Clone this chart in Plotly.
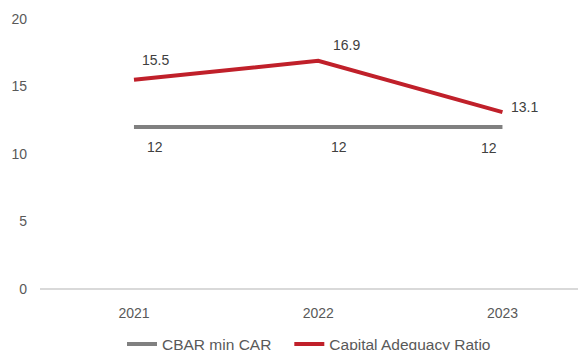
import plotly.graph_objects as go

years = ["2021", "2022", "2023"]
cbar_min_car = [12, 12, 12]
capital_adequacy_ratio = [15.5, 16.9, 13.1]
y_ticks = [0, 5, 10, 15, 20]

GREY = "#808080"
RED = "#c0202a"
TEXT = "#595959"
FONT = "Liberation Sans, Arial, sans-serif"
NBSP = "\u00a0"

fig = go.Figure()
fig.add_trace(go.Scatter(
    x=years, y=cbar_min_car, name="CBAR min CAR" + NBSP * 3, mode="lines",
    line=dict(color=GREY, width=4), hoverinfo="skip",
))
fig.add_trace(go.Scatter(
    x=years, y=capital_adequacy_ratio, name="Capital Adequacy Ratio", mode="lines",
    line=dict(color=RED, width=4), hoverinfo="skip",
))

# value labels, offset from each point (x given as category index)
red_shifts = [(22, 20), (28, 16), (22, 5)]
grey_shifts = [(21, -20), (21, -20), (-13, -21)]
for i, (v, (dx, dy)) in enumerate(zip(capital_adequacy_ratio, red_shifts)):
    fig.add_annotation(x=i, y=v, xref="x", yref="y", text=f"{v}", showarrow=False,
                       xshift=dx, yshift=dy,
                       font=dict(family=FONT, size=14, color="#404040"))
for i, (v, (dx, dy)) in enumerate(zip(cbar_min_car, grey_shifts)):
    fig.add_annotation(x=i, y=v, xref="x", yref="y", text=f"{v}", showarrow=False,
                       xshift=dx, yshift=dy,
                       font=dict(family=FONT, size=14, color="#404040"))

fig.update_layout(
    width=580, height=350,
    margin=dict(l=40, r=2, t=19, b=61, autoexpand=False),
    paper_bgcolor="white", plot_bgcolor="white",
    font=dict(family=FONT, size=14, color=TEXT),
    showlegend=True,
    legend=dict(orientation="h", x=0.5, xanchor="center", y=-0.205, yanchor="middle",
                font=dict(family=FONT, size=15.5, color=TEXT), itemwidth=30,
                traceorder="normal"),
    xaxis=dict(type="category", range=[-0.51, 2.41], showgrid=False, zeroline=False,
               showline=False, ticks="", ticklabelstandoff=14,
               tickfont=dict(size=14, color=TEXT)),
    yaxis=dict(range=[0, 20], tickvals=y_ticks, showgrid=False, zeroline=True,
               zerolinecolor="#d9d9d9", zerolinewidth=1.5, showline=False,
               ticks="", ticklabelstandoff=12, tickfont=dict(size=14, color=TEXT)),
)

fig.write_html("out.html")
